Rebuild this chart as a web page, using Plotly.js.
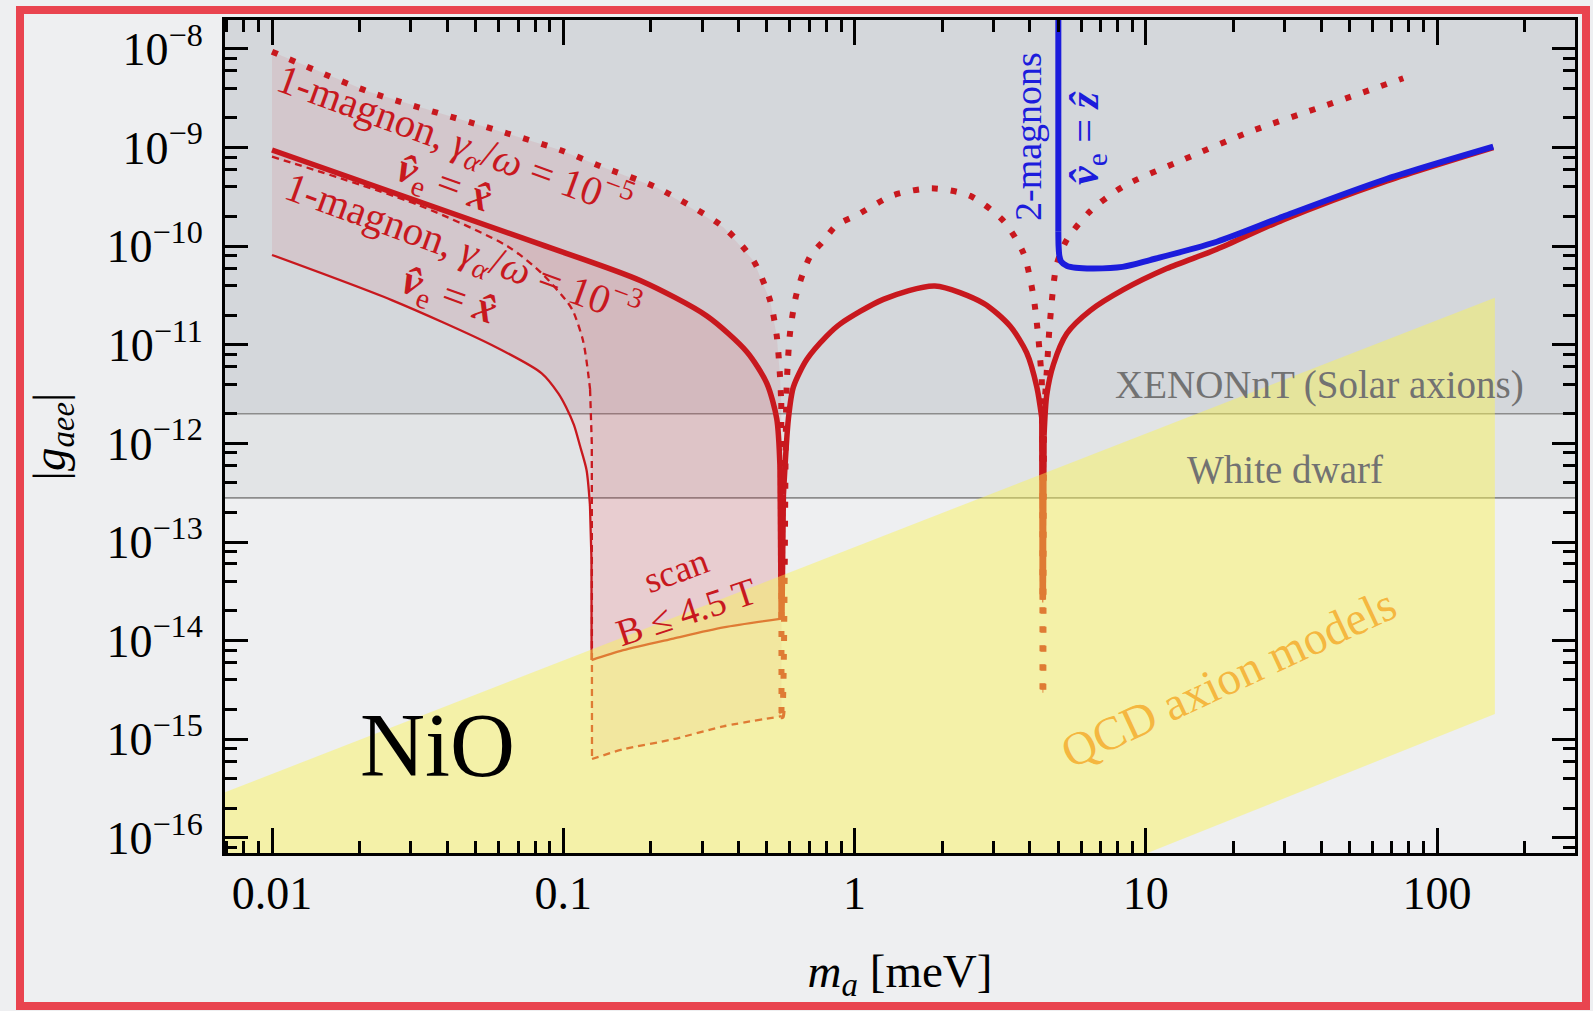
<!DOCTYPE html>
<html>
<head>
<meta charset="utf-8">
<script src="https://cdn.plot.ly/plotly-3.0.1.min.js"></script>
<style>
  html, body { margin: 0; padding: 0; background: #eeeff1; }
  #chart { width: 1593px; height: 1011px; }
</style>
</head>
<body>
<div id="chart"></div>
<script>
// ---------------- DATA (axion mass m_a in meV, |g_aee|) ----------------
// 1-magnon, gamma/omega = 1e-5 : dotted curve (upper envelope)
const dotLeftM  = [0.01, 0.0214, 0.0538, 0.0975, 0.1355, 0.2094, 0.3548, 0.4498, 0.5129, 0.5408, 0.5546, 0.5605, 0.5615];
const dotLeftG  = [9.4e-9, 3.7e-9, 1.63e-9, 9.46e-10, 6.4e-10, 3.93e-10, 1.56e-10, 7.13e-11, 2.82e-11, 1.23e-11, 4.9e-12, 2.57e-12, 1.71e-15];
const dotRightM = [0.5635, 0.5848, 0.6012, 0.6339, 0.7031, 0.7816, 0.869, 1.019, 1.358, 1.841, 2.495, 3.243, 3.802, 4.111, 4.276, 4.395, 4.415, 4.42, 4.45, 4.47, 4.571, 4.688, 4.943, 5.358, 6.442, 8.375, 13.46, 22.8, 41.8, 76.6];
const dotRightG = [1.71e-15, 3.72e-12, 1.35e-11, 3.39e-11, 7.82e-11, 1.13e-10, 1.64e-10, 2.07e-10, 3.29e-10, 3.86e-10, 3.24e-10, 1.81e-10, 8.51e-11, 3.16e-11, 1.19e-11, 4.47e-12, 2.0e-12, 3.18e-15, 3.18e-15, 2.0e-12, 5.3e-12, 1.7e-11, 6.46e-11, 1.16e-10, 2.26e-10, 4.04e-10, 7.55e-10, 1.45e-9, 2.7e-9, 5.05e-9];

// 1-magnon, gamma/omega = 1e-5, v_e = x : thick solid curve
const solidLeftM  = [0.01, 0.0832, 0.1837, 0.3112, 0.4266, 0.5, 0.5408, 0.5546, 0.56];
const solidLeftG  = [9.46e-10, 1.05e-10, 4.49e-11, 1.96e-11, 8.51e-12, 4.07e-12, 1.78e-12, 5.89e-13, 1.67e-14];
const solidRightM = [0.5635, 0.570, 0.5929, 0.6166, 0.6855, 0.8035, 0.8913, 1.256, 1.888, 2.767, 3.42, 3.899, 4.227, 4.395, 4.41, 4.45, 4.475, 4.571, 4.819, 5.358, 6.442, 8.375, 11.8, 17.54, 29.6, 65.5, 156];
const solidRightG = [1.67e-14, 3.0e-13, 1.78e-12, 3.72e-12, 7.08e-12, 1.23e-11, 1.62e-11, 2.89e-11, 3.95e-11, 2.65e-11, 1.55e-11, 8.32e-12, 3.72e-12, 1.82e-12, 2.6e-14, 2.6e-14, 1.2e-12, 3.09e-12, 6.31e-12, 1.3e-11, 2.22e-11, 3.62e-11, 5.93e-11, 9.3e-11, 1.85e-10, 4.47e-10, 1.0e-9];

// 1-magnon, gamma/omega = 1e-3 : thin dashed curve
const thinDashM = [0.01, 0.03177, 0.06471, 0.08433, 0.104, 0.1084, 0.1172, 0.1236, 0.1253, 0.1255];
const thinDashG = [8.1e-10, 2.62e-10, 9.89e-11, 5.31e-11, 2.64e-11, 2.15e-11, 1.07e-11, 3.55e-12, 1.0e-12, 6.3e-16];
// 1-magnon, gamma/omega = 1e-3, v_e = x : thin solid curve
const thinSolidM = [0.01, 0.02576, 0.05679, 0.08433, 0.09616, 0.1022, 0.1088, 0.1142, 0.1202, 0.1235, 0.125, 0.1251];
const thinSolidG = [8.15e-11, 2.84e-11, 9.95e-12, 5.14e-12, 3.22e-12, 2.34e-12, 1.54e-12, 9.4e-13, 5.37e-13, 2.37e-13, 6.6e-14, 6.35e-15];

// B-field scan (B <= 4.5 T) lower edges
const scanSolidM = [0.1251, 0.1607, 0.2388, 0.3548, 0.5623];
const scanSolidG = [6.35e-15, 8.0e-15, 1.05e-14, 1.36e-14, 1.67e-14];
const scanDashM  = [0.1255, 0.1607, 0.2388, 0.3548, 0.5623];
const scanDashG  = [6.3e-16, 7.9e-16, 1.0e-15, 1.35e-15, 1.71e-15];

// 2-magnons, v_e = z : blue curve
const twoMagM = [5.01, 5.01, 5.02, 5.05, 5.12, 5.37, 5.75, 6.61, 8.32, 10.35, 17.54, 29.65, 65.5, 156];
const twoMagG = [1e-7, 1.4e-10, 1.0e-10, 8.0e-11, 7.0e-11, 6.3e-11, 6.05e-11, 5.95e-11, 6.17e-11, 7.24e-11, 1.11e-10, 2.0e-10, 4.69e-10, 1.02e-9];

// QCD axion band (edges)
const qcdM     = [0.005, 158];
const qcdUpper = [2.0e-16, 3.0e-11];
const qcdLower = [8.7e-21, 1.8e-15];

// Existing limits
const xenonLimit = 2.0e-12;
const wdLimit    = 2.8e-13;
const limitSpanM = [0.005, 400];
const limitTopG  = 1e-7;

// Axis ticks
const xTickVals = [0.01, 0.1, 1, 10, 100];
const xTickText = ['0.01', '0.1', '1', '10', '100'];
const yExps = [-16, -15, -14, -13, -12, -11, -10, -9, -8];
const yTickVals = yExps.map(e => Math.pow(10, e));
const yTickText = yExps.map(e => '10<sup>\u2212' + (-e) + '</sup>');

// ---------------- BUILD ----------------
const RED = '#c8181e';
const BLUE = '#1c1cdc';
const rev = a => a.slice().reverse();
const SM = 0.75;

// split a curve into smooth (spline) pieces and steep resonance pieces (linear)
function curveTraces(M, G, line) {
  const out = [];
  let start = 0, curType = null;
  function push(a, b, type) {
    out.push({x: M.slice(a, b + 1), y: G.slice(a, b + 1), mode: 'lines', hoverinfo: 'skip',
      line: Object.assign({}, line, type === 'v' ? {shape: 'linear'} : {shape: 'spline', smoothing: SM})});
  }
  for (let i = 0; i < M.length - 1; i++) {
    const steep = Math.abs(Math.log10(M[i + 1] / M[i])) < 0.008 && Math.abs(Math.log10(G[i + 1] / G[i])) > 0.3;
    const t = steep ? 'v' : 's';
    if (curType === null) curType = t;
    if (t !== curType) { push(start, i, curType); start = i; curType = t; }
  }
  push(start, M.length - 1, curType);
  return out;
}

const xMinor = [];
for (let e = -3; e <= 2; e++) for (let k = 2; k <= 9; k++) {
  const v = k * Math.pow(10, e);
  if (v > 0.0069 && v < 298) xMinor.push(v);
}
const yMinor = [];
for (let e = -17; e <= -8; e++) for (const k of [2, 4, 6, 8]) {
  const v = k * Math.pow(10, e);
  if (v > 7.0e-17 && v < 1.9e-8) yMinor.push(v);
}

let traces = [];
// grey excluded regions
traces.push({x: [limitSpanM[0], limitSpanM[1], limitSpanM[1], limitSpanM[0]],
  y: [wdLimit, wdLimit, limitTopG, limitTopG], mode: 'lines', fill: 'toself',
  fillcolor: 'rgba(140,146,158,0.12)', line: {width: 0}, hoverinfo: 'skip'});
traces.push({x: [limitSpanM[0], limitSpanM[1], limitSpanM[1], limitSpanM[0]],
  y: [xenonLimit, xenonLimit, limitTopG, limitTopG], mode: 'lines', fill: 'toself',
  fillcolor: 'rgba(140,146,158,0.155)', line: {width: 0}, hoverinfo: 'skip'});
traces.push({x: limitSpanM, y: [xenonLimit, xenonLimit], mode: 'lines', line: {color: '#8c8c8c', width: 1.6}});
traces.push({x: limitSpanM, y: [wdLimit, wdLimit], mode: 'lines', line: {color: '#8c8c8c', width: 1.6}});

// pink projected-reach fills
traces.push({x: dotLeftM.concat(rev(scanDashM), rev(thinSolidM)),
  y: dotLeftG.concat(rev(scanDashG), rev(thinSolidG)), mode: 'lines', fill: 'toself',
  fillcolor: 'rgba(215,40,55,0.09)', line: {width: 0}, hoverinfo: 'skip'});
traces.push({x: solidLeftM.concat(rev(scanSolidM), rev(thinDashM)),
  y: solidLeftG.concat(rev(scanSolidG), rev(thinDashG)), mode: 'lines', fill: 'toself',
  fillcolor: 'rgba(215,40,55,0.09)', line: {width: 0}, hoverinfo: 'skip'});

// curves
traces = traces.concat(
  curveTraces(thinSolidM.concat(scanSolidM), thinSolidG.concat(scanSolidG), {color: RED, width: 2.3}),
  curveTraces(thinDashM.concat(scanDashM), thinDashG.concat(scanDashG), {color: RED, width: 2.3, dash: '7px,5px'}),
  curveTraces(solidLeftM.concat(solidRightM), solidLeftG.concat(solidRightG), {color: RED, width: 5.5}),
  curveTraces(dotLeftM.concat(dotRightM), dotLeftG.concat(dotRightG), {color: RED, width: 6, dash: '6px,13px'}),
  curveTraces(twoMagM, twoMagG, {color: BLUE, width: 6})
);

// QCD axion band on top
traces.push({x: qcdM.concat(rev(qcdM)), y: qcdUpper.concat(rev(qcdLower)), mode: 'lines',
  fill: 'toself', fillcolor: 'rgba(250,245,80,0.45)', line: {width: 0}, hoverinfo: 'skip'});

// ---------------- LAYOUT ----------------
const L = 225, R = 1575, T = 20, B = 853;
function at(px, py) { return {x: (px - L) / (R - L), y: (B - py) / (B - T), xref: 'paper', yref: 'paper'}; }
const SERIF = 'Liberation Serif, Times New Roman, serif';
function ann(px, py, text, size, color, angle) {
  return Object.assign(at(px, py), {text: text, showarrow: false, textangle: angle || 0,
    xanchor: 'center', yanchor: 'middle', font: {family: SERIF, size: size, color: color}});
}
const vx = '<b><i>v\u0302</i></b><sub>e</sub> = <b><i>x\u0302</i></b>';
const vz = '<b><i>v\u0302</i></b><sub>e</sub> = <b><i>z\u0302</i></b>';

const annotations = [
  ann(454, 140, '1-magnon, <i>\u03b3</i><sub><i>\u03b1</i></sub>/<i>\u03c9</i> = 10<sup>\u22125</sup>', 41, RED, 20),
  ann(443, 185, vx, 42, RED, 20),
  ann(462, 248, '1-magnon, <i>\u03b3</i><sub><i>\u03b1</i></sub>/<i>\u03c9</i> = 10<sup>\u22123</sup>', 41, RED, 20),
  ann(448, 297, vx, 42, RED, 20),
  ann(1028, 137, '2-magnons', 38, BLUE, -90),
  ann(1087, 139, vz, 42, BLUE, -90),
  ann(676, 570, 'scan', 37, RED, -20),
  ann(686, 612, 'B \u2264 4.5 T', 38, RED, -18),
  ann(437, 745, 'NiO', 90, '#000000', 0),
  ann(1228, 678, 'QCD axion models', 47, 'rgba(245,175,50,0.9)', -25),
  ann(1319, 385, 'XENONnT (Solar axions)', 39, '#727272', 0),
  ann(1285, 470, 'White dwarf', 39, '#727272', 0)
];

const frame = at(20, 1006), frame2 = at(1586, 10);
const shapes = [
  {type: 'rect', xref: 'paper', yref: 'paper', x0: frame.x, y0: frame.y, x1: frame2.x, y1: frame2.y,
   line: {color: 'rgba(232,58,70,0.95)', width: 8}, layer: 'above'}
];

const axisCommon = {
  type: 'log', showgrid: false, zeroline: false, showline: true, linecolor: '#000', linewidth: 3,
  mirror: 'allticks', ticks: 'inside', tickcolor: '#000', tickwidth: 3, tickmode: 'array',
  tickfont: {family: SERIF, size: 46, color: '#000'}
};

const layout = {
  width: 1593, height: 1011,
  margin: {l: L, r: 1593 - R, t: T, b: 1011 - B, pad: 0},
  paper_bgcolor: '#eeeff1', plot_bgcolor: 'rgba(0,0,0,0)',
  showlegend: false,
  font: {family: SERIF, color: '#000'},
  xaxis: Object.assign({}, axisCommon, {
    range: [-2.1614, 2.4738], tickvals: xTickVals, ticktext: xTickText, ticklen: 25,
    ticklabelstandoff: -2,
    minor: {ticks: 'inside', ticklen: 12, tickwidth: 3, tickcolor: '#000', tickmode: 'array', tickvals: xMinor, showgrid: false},
    title: {text: '<i>m</i><sub><i>a</i></sub> [meV]', font: {family: SERIF, size: 47, color: '#000'}, standoff: 36}
  }),
  yaxis: Object.assign({}, axisCommon, {
    range: [-16.154, -7.706], tickvals: yTickVals, ticktext: yTickText, ticklen: 23,
    ticklabelstandoff: 10,
    minor: {ticks: 'inside', ticklen: 12, tickwidth: 3, tickcolor: '#000', tickmode: 'array', tickvals: yMinor, showgrid: false},
    title: {text: '|<i>g</i><sub><i>aee</i></sub>|', font: {family: SERIF, size: 47, color: '#000'}, standoff: 27}
  }),
  annotations: annotations,
  shapes: shapes
};

Plotly.newPlot('chart', traces, layout, {displayModeBar: false, staticPlot: true});
</script>
</body>
</html>
